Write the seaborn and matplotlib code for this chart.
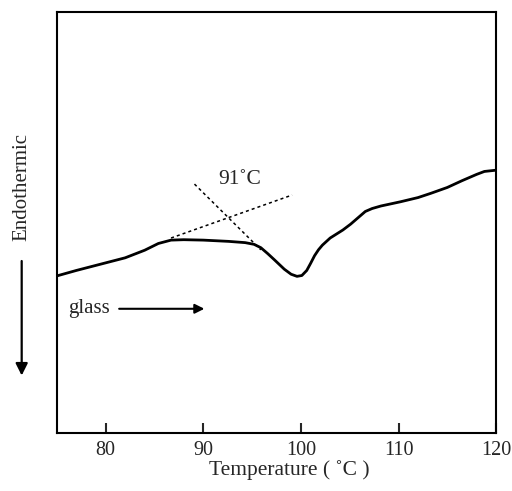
import pandas as pd
import matplotlib
matplotlib.use("Agg")
import matplotlib.pyplot as plt
import seaborn as sns

# DSC trace (arbitrary heat-flow units)
temperature = [75.0, 77.0, 80.0, 82.0, 84.0, 85.4, 86.7, 88.0, 90.0, 92.6, 94.3,
               95.2, 95.9, 96.6, 97.3, 98.3, 99.0, 99.6, 100.1, 100.6, 101.0,
               101.4, 101.8, 102.2, 103.0, 104.3, 105.1, 105.9, 106.6, 107.3,
               108.2, 110.2, 112.0, 113.3, 115.0, 116.5, 118.0, 118.8, 120.0]
signal = [37.3, 38.6, 40.4, 41.6, 43.4, 45.0, 45.8, 45.9, 45.8, 45.5, 45.2,
          44.8, 44.0, 42.6, 41.1, 38.9, 37.7, 37.2, 37.4, 38.6, 40.3,
          42.1, 43.5, 44.6, 46.3, 48.2, 49.6, 51.2, 52.6, 53.3,
          53.9, 54.9, 55.9, 56.9, 58.3, 59.9, 61.4, 62.1, 62.4]

# Onset construction lines (dotted)
tangent_t = [86.7, 99.1]
tangent_s = [46.3, 56.5]
slope_t = [89.1, 95.9]
slope_s = [59.1, 43.5]

xticks = [80, 90, 100, 110, 120]

df = pd.DataFrame({"Temperature": temperature, "Signal": signal})

sns.set_style("white")
plt.rcParams["font.family"] = ["Liberation Serif", "DejaVu Serif"]

fig = plt.figure(figsize=(5.12, 4.91), dpi=100)
ax = fig.add_axes([0.111, 0.118, 0.858, 0.858])

sns.lineplot(data=df, x="Temperature", y="Signal", ax=ax, color="black",
             linewidth=2.0, sort=False)
ax.plot(tangent_t, tangent_s, color="black", linewidth=1.1, linestyle=(0, (2, 2)))
ax.plot(slope_t, slope_s, color="black", linewidth=1.1, linestyle=(0, (2, 2)))

ax.text(93.7, 60.3, "91˚C", fontsize=15.5, ha="center", va="center")

# heating direction arrow
ax.text(76.2, 29.5, "glass", fontsize=15, ha="left", va="center")
ax.annotate("", xy=(90.4, 29.5), xytext=(81.1, 29.5),
            arrowprops=dict(arrowstyle="-|>", color="black", lw=1.5,
                            mutation_scale=14))

# endothermic direction marker outside the axes
ax.annotate("", xy=(-0.08, 0.13), xytext=(-0.08, 0.415),
            xycoords="axes fraction", textcoords="axes fraction",
            arrowprops=dict(arrowstyle="-|>", color="black", lw=1.6,
                            mutation_scale=18), annotation_clip=False)
ax.text(-0.08, 0.585, "Endothermic", transform=ax.transAxes, rotation=90,
        fontsize=15, ha="center", va="center")

ax.set_xlim(75, 120)
ax.set_ylim(0, 100)
ax.set_xticks(xticks)
ax.set_xticklabels([str(t) for t in xticks], fontsize=14.5)
ax.set_yticks([])
ax.set_ylabel("")
ax.set_xlabel("Temperature ( ˚C )", fontsize=15.5, va="center")
ax.xaxis.set_label_coords(0.53, -0.088)
ax.tick_params(axis="x", direction="in", length=7, width=1.5, bottom=True, pad=6)

for spine in ax.spines.values():
    spine.set_visible(True)
    spine.set_color("black")
    spine.set_linewidth(1.5)

fig.savefig("out.png", dpi=100)
